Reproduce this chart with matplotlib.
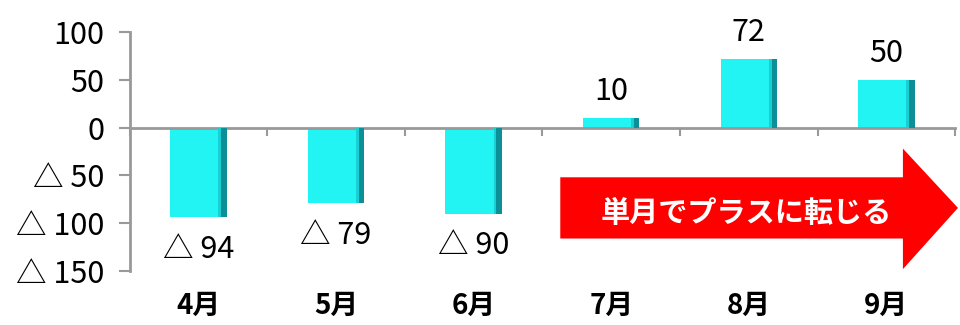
import numpy as np
import matplotlib
matplotlib.use("Agg")
import matplotlib.pyplot as plt
from matplotlib.patches import Polygon
from matplotlib.ticker import FuncFormatter
import matplotlib.transforms as mtransforms

months = ["4月", "5月", "6月", "7月", "8月", "9月"]
values = [-94, -79, -90, 10, 72, 50]
yticks = [100, 50, 0, -50, -100, -150]

FONT = ["Liberation Sans Narrow", "Noto Sans CJK JP", "DejaVu Sans"]
plt.rcParams["font.family"] = FONT


def tri(v):
    # negative numbers are written with a triangle
    v = int(round(v))
    return f"△ {abs(v)}" if v < 0 else f"{v}"


fig = plt.figure(figsize=(9.6, 3.25), dpi=100)
ax = fig.add_axes([0.135, 0.166, 0.86, 0.736])

x = np.arange(len(months))
w = 0.41
ax.bar(x, values, width=w, color="#22f4f4", edgecolor="none", zorder=2)
# darker bevel on the right side of each bar
ax.bar(x + w / 2 - 0.02, values, width=0.04, color="#0c8f96", edgecolor="none", zorder=3)
ax.bar(x + w / 2 - 0.05, values, width=0.02, color="#18d0d4", edgecolor="none", zorder=3)

for xi, v in zip(x, values):
    if v < 0:
        ax.annotate(tri(v), (xi, v), xytext=(0, -12), textcoords="offset points",
                    ha="center", va="top", fontsize=22)
    else:
        ax.annotate(tri(v), (xi, v), xytext=(0, 8), textcoords="offset points",
                    ha="center", va="bottom", fontsize=22)

ax.set_xlim(-0.5, len(months) - 0.5)
ax.set_ylim(-150, 100)
ax.set_yticks(yticks)
ax.yaxis.set_major_formatter(FuncFormatter(lambda v, p: tri(v)))
ax.tick_params(axis="y", labelsize=22, length=8, width=1.5, color="#999999", pad=10)

ax.set_xticks(np.arange(len(months) + 1) - 0.5)
ax.set_xticklabels([])
ax.tick_params(axis="x", length=6, width=1.5, color="#999999", direction="out")

for s in ["top", "right"]:
    ax.spines[s].set_visible(False)
ax.spines["bottom"].set_position(("data", 0))
ax.spines["bottom"].set_color("#999999")
ax.spines["bottom"].set_linewidth(2)
ax.spines["left"].set_color("#999999")
ax.spines["left"].set_linewidth(2)

trans = mtransforms.blended_transform_factory(ax.transData, ax.transAxes)
for xi, m in zip(x, months):
    ax.text(xi, -0.145, m, transform=trans, ha="center", va="center",
            fontsize=20, fontweight="bold")

# red arrow
arrow = Polygon([(2.63, -52), (5.12, -52), (5.12, -22), (5.52, -84),
                 (5.12, -148), (5.12, -116), (2.63, -116)],
                closed=True, facecolor="#ff0000", edgecolor="none",
                clip_on=False, zorder=4)
ax.add_patch(arrow)
ax.text(3.98, -89, "単月でプラスに転じる", ha="center", va="center", color="white",
        fontsize=21, fontweight="bold", family=["Noto Sans CJK JP", "DejaVu Sans"],
        zorder=5)

fig.savefig("out.png", dpi=100)
